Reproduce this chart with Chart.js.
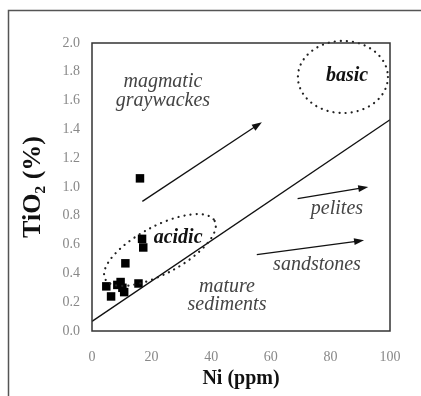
<!DOCTYPE html>
<html>
<head>
<meta charset="utf-8">
<script src="https://cdn.jsdelivr.net/npm/chart.js@4/dist/chart.umd.min.js"></script>
<style>
  body { margin: 0; background: #fff; }
</style>
</head>
<body>
<canvas id="myChart" width="421" height="396"></canvas>
<script>
// samples: Ni (ppm) vs TiO2 (%)
const niValues = [4.8, 6.4, 8.5, 9.6, 10.2, 10.8, 11.2, 15.6, 16.1, 16.8, 17.2];
const tiValues = [0.31, 0.24, 0.32, 0.34, 0.30, 0.27, 0.47, 0.33, 1.06, 0.64, 0.58];

// boundary line
const boundaryX = [0, 100];
const boundaryY = [0.067, 1.467];

const xTicks = [0, 20, 40, 60, 80, 100];
const yTicks = [0, 0.2, 0.4, 0.6, 0.8, 1.0, 1.2, 1.4, 1.6, 1.8, 2.0];

// field labels [text, x, y, bold]
const fieldLabels = [
  ["magmatic", 23.8, 1.73, false],
  ["graywackes", 23.8, 1.60, false],
  ["basic", 85.6, 1.77, true],
  ["acidic", 28.9, 0.646, true],
  ["pelites", 82.2, 0.847, false],
  ["sandstones", 75.5, 0.458, false],
  ["mature", 45.3, 0.306, false],
  ["sediments", 45.3, 0.18, false]
];

// trend arrows [x1, y1, x2, y2]
const arrows = [
  [16.9, 0.90, 57.0, 1.45],
  [69.0, 0.92, 92.7, 1.0],
  [55.3, 0.53, 91.3, 0.63]
];

// dotted fields [cx, cy, rx (Ni units), ry (Ni units), rotation deg]
const fields = [
  [84.2, 1.764, 15.1, 12.1, 0],
  [22.8, 0.5625, 20.8, 8.0, -28]
];

const serif = "'Liberation Serif', 'Times New Roman', serif";

const overlay = {
  id: "overlay",
  beforeDraw(chart) {
    const ctx = chart.ctx;
    ctx.save();
    ctx.strokeStyle = "#555";
    ctx.lineWidth = 1.5;
    ctx.beginPath();
    ctx.moveTo(8.5, 396);
    ctx.lineTo(8.5, 10.5);
    ctx.lineTo(421, 10.5);
    ctx.stroke();
    ctx.restore();
  },
  afterDatasetsDraw(chart) {
    const ctx = chart.ctx;
    const xs = chart.scales.x;
    const ys = chart.scales.y;
    const a = chart.chartArea;
    const ppu = xs.getPixelForValue(1) - xs.getPixelForValue(0);
    ctx.save();

    // dotted ellipses
    ctx.strokeStyle = "#222";
    ctx.lineWidth = 2.2;
    ctx.lineCap = "round";
    ctx.setLineDash([0.1, 6]);
    fields.forEach(function (f) {
      ctx.beginPath();
      ctx.ellipse(xs.getPixelForValue(f[0]), ys.getPixelForValue(f[1]), f[2] * ppu, f[3] * ppu, f[4] * Math.PI / 180, 0, Math.PI * 2);
      ctx.stroke();
    });
    ctx.setLineDash([]);
    ctx.lineCap = "butt";

    // arrows
    ctx.strokeStyle = "#111";
    ctx.fillStyle = "#111";
    ctx.lineWidth = 1.3;
    arrows.forEach(function (ar) {
      const x1 = xs.getPixelForValue(ar[0]), y1 = ys.getPixelForValue(ar[1]);
      const x2 = xs.getPixelForValue(ar[2]), y2 = ys.getPixelForValue(ar[3]);
      const ang = Math.atan2(y2 - y1, x2 - x1);
      ctx.beginPath();
      ctx.moveTo(x1, y1);
      ctx.lineTo(x2 - 6 * Math.cos(ang), y2 - 6 * Math.sin(ang));
      ctx.stroke();
      ctx.beginPath();
      ctx.moveTo(x2, y2);
      ctx.lineTo(x2 - 10 * Math.cos(ang) + 3.5 * Math.sin(ang), y2 - 10 * Math.sin(ang) - 3.5 * Math.cos(ang));
      ctx.lineTo(x2 - 10 * Math.cos(ang) - 3.5 * Math.sin(ang), y2 - 10 * Math.sin(ang) + 3.5 * Math.cos(ang));
      ctx.closePath();
      ctx.fill();
    });

    // labels
    ctx.textAlign = "center";
    ctx.textBaseline = "middle";
    fieldLabels.forEach(function (l) {
      ctx.font = (l[3] ? "italic bold " : "italic ") + "20px " + serif;
      ctx.fillStyle = l[3] ? "#111" : "#444";
      ctx.fillText(l[0], xs.getPixelForValue(l[1]), ys.getPixelForValue(l[2]));
    });

    // plot frame
    ctx.strokeStyle = "#333";
    ctx.lineWidth = 1.5;
    ctx.strokeRect(a.left, a.top, a.right - a.left, a.bottom - a.top);
    ctx.restore();
  }
};

const ctx = document.getElementById("myChart").getContext("2d");
const myChart = new Chart(ctx, {
  type: "scatter",
  data: {
    datasets: [
      {
        label: "boundary",
        type: "line",
        data: boundaryX.map(function (x, i) { return { x: x, y: boundaryY[i] }; }),
        borderColor: "#111",
        borderWidth: 1.3,
        pointRadius: 0,
        fill: false
      },
      {
        label: "samples",
        data: niValues.map(function (x, i) { return { x: x, y: tiValues[i] }; }),
        pointStyle: "rect",
        pointRadius: 6,
        backgroundColor: "#000",
        borderColor: "#000",
        borderWidth: 0
      }
    ]
  },
  options: {
    responsive: false,
    animation: false,
    layout: { padding: { top: 43, right: 31, left: 0, bottom: 0 } },
    plugins: {
      legend: { display: false },
      tooltip: { enabled: false }
    },
    scales: {
      x: {
        type: "linear",
        min: 0,
        max: 100,
        afterFit: function (scale) { scale.height = 65; },
        afterBuildTicks: function (scale) { scale.ticks = xTicks.map(function (v) { return { value: v }; }); },
        grid: { display: false, drawTicks: false },
        border: { display: false },
        ticks: {
          padding: 18,
          color: "#888",
          font: { family: serif, size: 14 },
          callback: function (v) { return String(v); }
        },
        title: {
          display: true,
          text: "Ni (ppm)",
          color: "#111",
          font: { family: serif, size: 20, weight: "bold" },
          padding: { bottom: 5, top: 0 }
        }
      },
      y: {
        type: "linear",
        min: 0,
        max: 2,
        afterFit: function (scale) { scale.width = 92; },
        afterBuildTicks: function (scale) { scale.ticks = yTicks.map(function (v) { return { value: v }; }); },
        grid: { display: false, drawTicks: false },
        border: { display: false },
        ticks: {
          padding: 12,
          color: "#888",
          font: { family: serif, size: 14 },
          callback: function (v) { return v.toFixed(1); }
        },
        title: {
          display: true,
          text: "TiO₂ (%)",
          color: "#111",
          font: { family: serif, size: 26, weight: "bold" },
          padding: { top: 18, bottom: 0 }
        }
      }
    }
  },
  plugins: [overlay]
});
</script>
</body>
</html>
